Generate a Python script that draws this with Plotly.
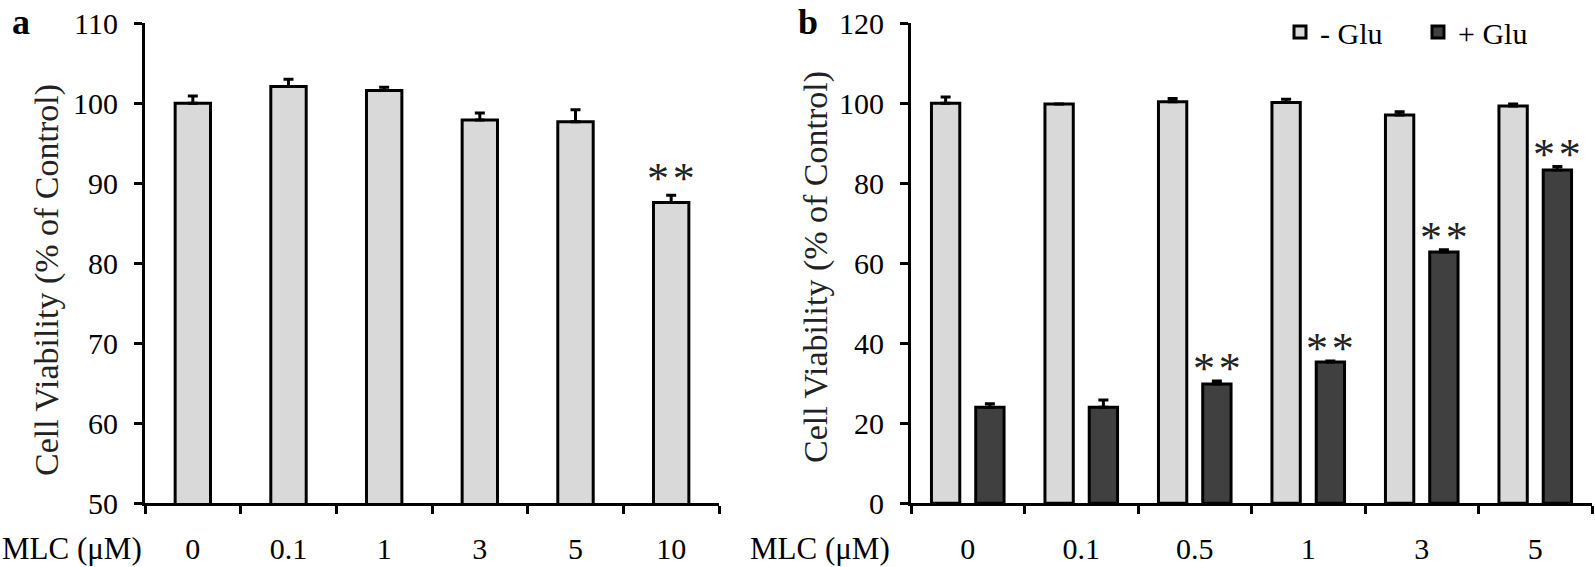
import plotly.graph_objects as go
from plotly.subplots import make_subplots

# ---- data ----
cats_a = ["0", "0.1", "1", "3", "5", "10"]
vals_a = [100.0, 102.1, 101.6, 97.9, 97.7, 87.6]
err_a = [0.9, 0.9, 0.4, 0.9, 1.5, 0.9]
sig_a = [False, False, False, False, False, True]

cats_b = ["0", "0.1", "0.5", "1", "3", "5"]
minus_glu = [100.0, 99.8, 100.4, 100.2, 97.1, 99.3]
err_minus = [1.6, 0.0, 0.8, 0.8, 0.8, 0.5]
plus_glu = [24.0, 24.0, 29.8, 35.3, 62.8, 83.3]
err_plus = [0.9, 1.8, 0.8, 0.3, 0.6, 0.9]
sig_b = [False, False, True, True, True, True]

FONT = "Liberation Serif"
LIGHT = "#D9D9D9"
DARK = "#404040"
W, H = 1595, 567

fig = make_subplots(rows=1, cols=2)

def err(arr):
    return dict(type="data", symmetric=False, array=arr, arrayminus=[0] * len(arr),
                color="black", thickness=3, width=5, visible=True)

fig.add_trace(go.Bar(x=cats_a, y=vals_a, marker=dict(color=LIGHT, line=dict(color="black", width=3)),
                     error_y=err(err_a), showlegend=False, width=0.37), row=1, col=1)
fig.add_trace(go.Bar(x=cats_b, y=minus_glu, name="- Glu",
                     marker=dict(color=LIGHT, line=dict(color="black", width=3)),
                     error_y=err(err_minus), offsetgroup="m"), row=1, col=2)
fig.add_trace(go.Bar(x=cats_b, y=plus_glu, name="+ Glu",
                     marker=dict(color=DARK, line=dict(color="black", width=3)),
                     error_y=err(err_plus), offsetgroup="p"), row=1, col=2)

x0a, x1a = 145 / W, 719 / W
x0b, x1b = 911 / W, 1592 / W
y0, y1 = 1 - 503.3 / H, 1 - 23.3 / H

axis_common = dict(showline=True, linecolor="black", linewidth=3, ticks="outside",
                   ticklen=8, tickwidth=3, tickcolor="black", showgrid=False, zeroline=False,
                   automargin=False, tickfont=dict(family=FONT, size=30, color="black"))

fig.update_xaxes(axis_common, tickson="boundaries", ticklabelstandoff=17, range=[-0.5, 5.5])
fig.update_yaxes(axis_common, ticklabelstandoff=10)
fig.update_xaxes(domain=[x0a, x1a], row=1, col=1)
fig.update_xaxes(domain=[x0b, x1b], row=1, col=2)
fig.update_yaxes(domain=[y0, y1], range=[50, 110], dtick=10, row=1, col=1)
fig.update_yaxes(domain=[y0, y1], range=[0, 120], dtick=20, row=1, col=2)

STAR = "*\u200a*"
anns = []
for i, (v, e, s) in enumerate(zip(vals_a, err_a, sig_a)):
    if s:
        anns.append(dict(x=i, y=v + e, xref="x", yref="y", text=STAR, showarrow=False,
                         yanchor="bottom", yshift=-10, font=dict(family=FONT, size=44, color="#222")))
for i, (v, e, s) in enumerate(zip(plus_glu, err_plus, sig_b)):
    if s:
        anns.append(dict(x=i, y=v + e, xref="x2", yref="y2", text=STAR, showarrow=False,
                         xshift=22, yanchor="bottom", yshift=-14,
                         font=dict(family=FONT, size=44, color="#222")))
ytitle = "Cell Viability (% of Control)"
anns.append(dict(x=47 / W, y=1 - 280 / H, xref="paper", yref="paper", xanchor="center", yanchor="middle",
                 text=ytitle, textangle=-90, showarrow=False, font=dict(family=FONT, size=34, color="#222")))
anns.append(dict(x=816 / W, y=1 - 267 / H, xref="paper", yref="paper", xanchor="center", yanchor="middle",
                 text=ytitle, textangle=-90, showarrow=False, font=dict(family=FONT, size=34, color="#222")))
anns.append(dict(x=0, y=1 - 548 / H, xref="paper", yref="paper", xanchor="left", yanchor="middle",
                 text="MLC (μM)", showarrow=False, font=dict(family=FONT, size=31, color="black")))
anns.append(dict(x=748 / W, y=1 - 548 / H, xref="paper", yref="paper", xanchor="left", yanchor="middle",
                 text="MLC (μM)", showarrow=False, font=dict(family=FONT, size=31, color="black")))
anns.append(dict(x=10 / W, y=1 - 22 / H, xref="paper", yref="paper", xanchor="left", yanchor="middle",
                 text="<b>a</b>", showarrow=False, font=dict(family=FONT, size=36, color="black")))
anns.append(dict(x=796 / W, y=1 - 22 / H, xref="paper", yref="paper", xanchor="left", yanchor="middle",
                 text="<b>b</b>", showarrow=False, font=dict(family=FONT, size=36, color="black")))

fig.update_layout(
    width=W, height=H, margin=dict(l=0, r=0, t=0, b=0),
    plot_bgcolor="white", paper_bgcolor="white",
    barmode="group", bargap=0.22, bargroupgap=0.36,
    annotations=anns,
    legend=dict(orientation="h", x=1280 / W, y=1 - 32 / H, xanchor="left", yanchor="middle",
                font=dict(family=FONT, size=30, color="black"), bgcolor="rgba(0,0,0,0)",
                itemwidth=30, entrywidth=93, entrywidthmode="pixels", traceorder="normal"),
)

fig.write_html("out.html", config={"displayModeBar": False},
               post_script="document.body.style.margin='0';")
